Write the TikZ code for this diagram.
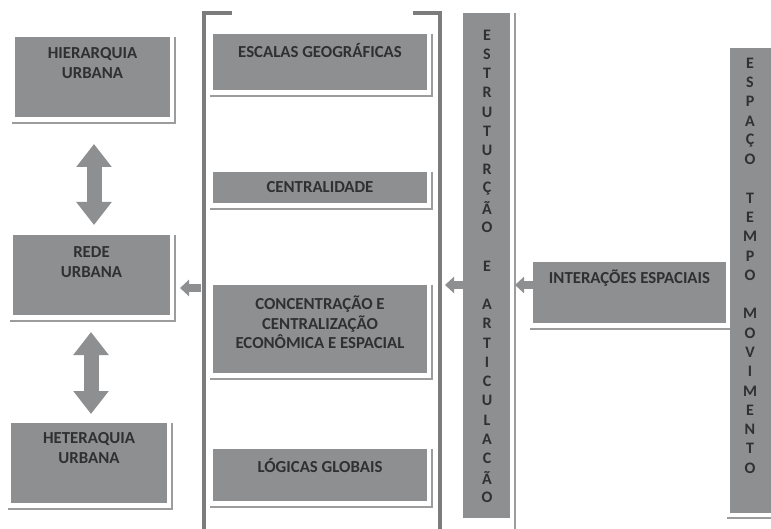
\documentclass[tikz,border=0pt]{standalone}
\usepackage{fontspec}
\setmainfont{Carlito}
\usetikzlibrary{arrows.meta,calc}
\definecolor{boxfill}{HTML}{8E8F91}
\definecolor{txt}{HTML}{303030}
\definecolor{shade}{HTML}{9C9C9C}
\definecolor{brk}{HTML}{7C7C7C}
\tikzset{
  lbl/.style={font=\fontsize{16.8}{19.7}\selectfont\bfseries,text=txt,align=center,inner sep=0pt},
  vlbl/.style={font=\fontsize{16}{19}\selectfont\bfseries,text=txt,inner sep=0pt},
  shadowline/.style={draw=shade,line width=2pt},
  bracket/.style={draw=brk,line width=3.2pt},
  bigarrow/.style={draw=boxfill,line width=15pt,{Triangle[width=34pt,length=23pt]}-{Triangle[width=34pt,length=23pt]}},
  smallarrow/.style={draw=boxfill,line width=8pt,-{Triangle[width=16pt,length=9pt]}},
}
\newcommand{\mkbox}[5]{% name, x1, y1, x2, y2
  \path[fill=boxfill] (#2,#3) rectangle (#4,#5);
  \coordinate (#1-nw) at (#2,#3);
  \coordinate (#1-se) at (#4,#5);
  \draw[shadowline] ($(#2,#5)+(-3,6)$) -- ($(#4,#5)+(5,6)$) -- ($(#4,#3)+(5,0)$);
}
\begin{document}
\begin{tikzpicture}[x=1pt,y=-1pt]
\useasboundingbox[fill=white] (0,0) rectangle (771,529);

% bracket
\draw[bracket] (232,13) -- (204,13) -- (204,530);
\draw[bracket] (413,13) -- (440,13) -- (440,530);

% left boxes
\mkbox{hier}{15}{37}{170}{117}
\node[lbl] (hier) at (92.5,63) {HIERARQUIA\\URBANA};
\mkbox{rede}{13}{235}{170}{315}
\node[lbl] (rede) at (91.5,262) {REDE\\URBANA};
\mkbox{heter}{11}{423}{167}{503}
\node[lbl] (heter) at (89,448) {HETERAQUIA\\URBANA};

% inner boxes
\mkbox{esc}{213}{34}{427}{90}
\node[lbl] (esc) at (320,51) {ESCALAS GEOGRÁFICAS};
\mkbox{cen}{213}{172}{427}{203}
\node[lbl] (cen) at (320,187.5) {CENTRALIDADE};
\mkbox{con}{213}{285}{427}{373}
\node[lbl] (con) at (320,322.5) {CONCENTRAÇÃO E\\CENTRALIZAÇÃO\\ECONÔMICA E ESPACIAL};
\mkbox{log}{213}{449}{427}{501}
\node[lbl] (log) at (320,465.5) {LÓGICAS GLOBAIS};

% estruturação column
\path[fill=boxfill] (463,13) rectangle (510,518);
\draw[shadowline] (515,13) -- (515,529);
\foreach \l [count=\i] in {E,S,T,R,U,T,U,R,Ç,Ã,O,{},E,{},A,R,T,I,C,U,L,A,C,Ã,O}
  \node[vlbl] (estr-\i) at (487,{35+(\i-1)*19.25}) {\l};

% interações
\mkbox{int}{533}{262}{726}{323}
\node[lbl] (int) at (629.5,278) {INTERAÇÕES ESPACIAIS};

% espaço column
\path[fill=boxfill] (730,48) rectangle (771,513);
\draw[shadowline] (727,518) -- (771,518);
\foreach \l [count=\i] in {E,S,P,A,Ç,O,{},T,E,M,P,O,{},M,O,V,I,M,E,N,T,O}
  \node[vlbl] (esp-\i) at (750,{63+(\i-1)*19.29}) {\l};

% double arrows
\coordinate (d1a) at (94,144);
\coordinate (d1b) at (94,225);
\coordinate (d2a) at (91,332);
\coordinate (d2b) at (91,414);
\draw[bigarrow] (d1a) -- (d1b);
\draw[bigarrow] (d2a) -- (d2b);

% small arrows
\coordinate (s1a) at (201,288);
\coordinate (s1b) at (180,288);
\coordinate (s2a) at (463,285);
\coordinate (s2b) at (445,285);
\coordinate (s3a) at (533,285);
\coordinate (s3b) at (515,285);
\draw[smallarrow] (s1a) -- (s1b);
\draw[smallarrow] (s2a) -- (s2b);
\draw[smallarrow] (s3a) -- (s3b);
\end{tikzpicture}
\end{document}
